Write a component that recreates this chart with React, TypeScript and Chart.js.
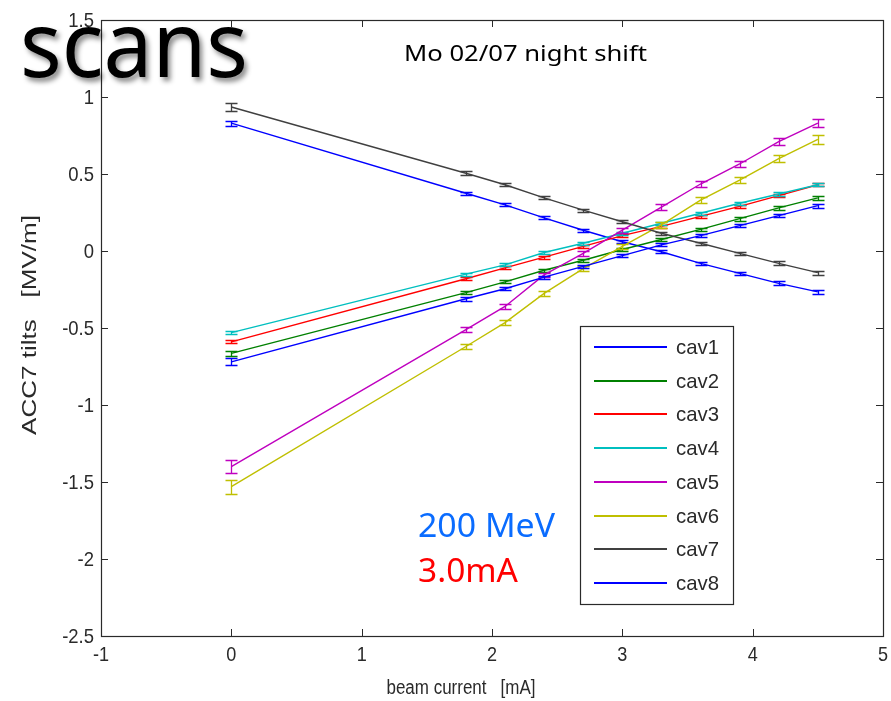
import React, { useEffect, useRef } from "react";
import { Chart, registerables } from "chart.js";

Chart.register(...registerables);

// ---- data ----
const currents = [0, 1.8, 2.1, 2.4, 2.7, 3.0, 3.3, 3.6, 3.9, 4.2, 4.5];

const cavLabels = ["cav1", "cav2", "cav3", "cav4", "cav5", "cav6", "cav7", "cav8"];

const cav1 = [0.83, 0.375, 0.3, 0.215, 0.135, 0.06, -0.005, -0.08, -0.145, -0.21, -0.265];
const cav2 = [-0.665, -0.27, -0.2, -0.125, -0.06, 0.01, 0.075, 0.14, 0.21, 0.28, 0.345];
const cav3 = [-0.59, -0.18, -0.11, -0.04, 0.03, 0.1, 0.16, 0.225, 0.29, 0.36, 0.43];
const cav4 = [-0.53, -0.15, -0.09, -0.01, 0.05, 0.115, 0.18, 0.245, 0.31, 0.37, 0.43];
const cav5 = [-1.4, -0.51, -0.36, -0.155, -0.015, 0.135, 0.285, 0.435, 0.565, 0.71, 0.83];
const cav6 = [-1.53, -0.62, -0.465, -0.275, -0.115, 0.03, 0.17, 0.33, 0.46, 0.6, 0.725];
const cav7 = [0.935, 0.505, 0.43, 0.345, 0.265, 0.19, 0.115, 0.05, -0.015, -0.08, -0.14];
const cav8 = [-0.72, -0.31, -0.245, -0.17, -0.1, -0.03, 0.04, 0.1, 0.165, 0.23, 0.295];

const err1 = [0.016, 0.01, 0.01, 0.01, 0.01, 0.01, 0.01, 0.01, 0.01, 0.012, 0.013];
const err2 = [0.018, 0.012, 0.01, 0.01, 0.01, 0.01, 0.01, 0.01, 0.012, 0.012, 0.012];
const err3 = [0.01, 0.01, 0.01, 0.01, 0.01, 0.01, 0.01, 0.01, 0.01, 0.01, 0.01];
const err4 = [0.01, 0.01, 0.01, 0.01, 0.01, 0.01, 0.01, 0.01, 0.01, 0.01, 0.01];
const err5 = [0.043, 0.016, 0.015, 0.015, 0.015, 0.015, 0.018, 0.018, 0.02, 0.022, 0.026];
const err6 = [0.045, 0.016, 0.015, 0.015, 0.015, 0.015, 0.018, 0.018, 0.02, 0.022, 0.027];
const err7 = [0.026, 0.012, 0.01, 0.01, 0.01, 0.01, 0.01, 0.01, 0.01, 0.012, 0.013];
const err8 = [0.022, 0.012, 0.01, 0.01, 0.01, 0.01, 0.01, 0.01, 0.01, 0.012, 0.013];

const xTicks = [-1, 0, 1, 2, 3, 4, 5];
const yTicks = [-2.5, -2, -1.5, -1, -0.5, 0, 0.5, 1, 1.5];

const seriesValues = [cav1, cav2, cav3, cav4, cav5, cav6, cav7, cav8];
const seriesErrors = [err1, err2, err3, err4, err5, err6, err7, err8];

// ---- styles ----
const colors = ["#0000ff", "#008000", "#ff0000", "#00bfbf", "#bf00bf", "#bfbf00", "#404040", "#0000ff"];
const SANS = '"Liberation Sans", Arial, sans-serif';
const OFFICE = '"Noto Sans", "Open Sans", sans-serif';
const AXIS_COLOR = "#2a2a2a";

function fitText(
  ctx: CanvasRenderingContext2D,
  text: string,
  x: number,
  y: number,
  width: number,
  font: string,
  color: string,
  align: "left" | "center" = "left",
  rotate = 0
) {
  ctx.save();
  ctx.font = font;
  const w = ctx.measureText(text).width;
  const s = width / w;
  ctx.translate(x, y);
  if (rotate) ctx.rotate(rotate);
  ctx.scale(s, 1);
  ctx.fillStyle = color;
  ctx.textAlign = align;
  ctx.textBaseline = "alphabetic";
  ctx.fillText(text, 0, 0);
  ctx.restore();
}

function narrowText(
  ctx: CanvasRenderingContext2D,
  text: string,
  x: number,
  y: number,
  size: number,
  sx: number,
  align: CanvasTextAlign,
  baseline: CanvasTextBaseline
) {
  ctx.save();
  ctx.translate(x, y);
  ctx.scale(sx, 1);
  ctx.font = `${size}px ${SANS}`;
  ctx.fillStyle = AXIS_COLOR;
  ctx.textAlign = align;
  ctx.textBaseline = baseline;
  ctx.fillText(text, 0, 0);
  ctx.restore();
}

const errorBarPlugin = {
  id: "errorBars",
  afterDatasetDraw(chart: any, args: any) {
    const ds = chart.data.datasets[args.index];
    const errs: number[] = ds.errors;
    if (!errs) return;
    const xs = chart.scales.x;
    const ys = chart.scales.y;
    const ctx: CanvasRenderingContext2D = chart.ctx;
    ctx.save();
    ctx.strokeStyle = ds.borderColor;
    ctx.lineWidth = 1.3;
    ds.data.forEach((p: any, i: number) => {
      const px = Math.round(xs.getPixelForValue(p.x)) + 0.5;
      const y1 = Math.round(ys.getPixelForValue(p.y - errs[i])) + 0.5;
      const y2 = Math.round(ys.getPixelForValue(p.y + errs[i])) + 0.5;
      ctx.beginPath();
      ctx.moveTo(px, y1);
      ctx.lineTo(px, y2);
      ctx.moveTo(px - 6, y1);
      ctx.lineTo(px + 6, y1);
      ctx.moveTo(px - 6, y2);
      ctx.lineTo(px + 6, y2);
      ctx.stroke();
    });
    ctx.restore();
  },
};

const framePlugin = {
  id: "frameAndText",
  afterDraw(chart: any) {
    const ctx: CanvasRenderingContext2D = chart.ctx;
    const { left, right, top, bottom } = chart.chartArea;
    const xs = chart.scales.x;
    const ys = chart.scales.y;

    // frame
    ctx.save();
    ctx.strokeStyle = AXIS_COLOR;
    ctx.lineWidth = 1.2;
    ctx.strokeRect(Math.round(left) + 0.5, Math.round(top) + 0.5, Math.round(right - left), Math.round(bottom - top));
    // inward ticks
    ctx.lineWidth = 1;
    ctx.beginPath();
    xs.ticks.forEach((t: any) => {
      const px = Math.round(xs.getPixelForValue(t.value)) + 0.5;
      ctx.moveTo(px, bottom);
      ctx.lineTo(px, bottom - 7);
      ctx.moveTo(px, top);
      ctx.lineTo(px, top + 7);
    });
    ys.ticks.forEach((t: any) => {
      const py = Math.round(ys.getPixelForValue(t.value)) + 0.5;
      ctx.moveTo(left, py);
      ctx.lineTo(left + 7, py);
      ctx.moveTo(right, py);
      ctx.lineTo(right - 7, py);
    });
    ctx.stroke();
    ctx.restore();

    // tick labels (from the scales' ticks)
    xs.ticks.forEach((t: any) => {
      narrowText(ctx, String(t.value), xs.getPixelForValue(t.value), bottom + 9, 21, 0.86, "center", "top");
    });
    ys.ticks.forEach((t: any) => {
      narrowText(ctx, String(t.value), left - 7, ys.getPixelForValue(t.value) + 1, 21, 0.88, "right", "middle");
    });

    // axis titles
    fitText(ctx, "beam current   [mA]", 461, 694, 149, `20px ${SANS}`, AXIS_COLOR, "center");
    fitText(ctx, "ACC7 tilts   [MV/m]", 36, 325, 220, `21px ${SANS}`, AXIS_COLOR, "center", -Math.PI / 2);

    // title inside plot
    fitText(ctx, "Mo 02/07 night shift", 404, 61, 243, `22px ${OFFICE}`, "#000000");

    // annotations
    fitText(ctx, "200 MeV", 418, 537, 137, `33px ${OFFICE}`, "#0a6cff");
    fitText(ctx, "3.0mA", 418, 582, 100, `33px ${OFFICE}`, "#ff0000");

    // big "scans" with shadow
    ctx.save();
    ctx.shadowColor = "rgba(0,0,0,0.45)";
    ctx.shadowOffsetX = 3;
    ctx.shadowOffsetY = 4;
    ctx.shadowBlur = 5;
    fitText(ctx, "scans", 20, 77, 228, `92px ${OFFICE}`, "#000000");
    ctx.restore();

    // legend
    const lx = 580, ly = 326, lw = 153, lh = 278;
    ctx.save();
    ctx.fillStyle = "#ffffff";
    ctx.fillRect(lx, ly, lw, lh);
    ctx.strokeStyle = AXIS_COLOR;
    ctx.lineWidth = 1.2;
    ctx.strokeRect(lx + 0.5, ly + 0.5, lw, lh);
    chart.data.datasets.forEach((ds: any, i: number) => {
      const ry = Math.round(ly + 21 + i * 33.7);
      ctx.strokeStyle = ds.borderColor;
      ctx.lineWidth = 2;
      ctx.beginPath();
      ctx.moveTo(lx + 14, ry);
      ctx.lineTo(lx + 87, ry);
      ctx.stroke();
      narrowText(ctx, ds.label, lx + 96, ry + 1, 21, 0.97, "left", "middle");
    });
    ctx.restore();
  },
};

export default function App() {
  const canvasRef = useRef<HTMLCanvasElement | null>(null);

  useEffect(() => {
    document.body.style.margin = "0";
    const canvas = canvasRef.current;
    if (!canvas) return;
    const datasets = seriesValues.map((vals, i) => ({
      label: cavLabels[i],
      data: currents.map((x, j) => ({ x, y: vals[j] })),
      errors: seriesErrors[i],
      borderColor: colors[i],
      backgroundColor: colors[i],
      borderWidth: 1.4,
      pointRadius: 0,
      fill: false,
      tension: 0,
      order: seriesValues.length - i,
    }));

    const chart = new Chart(canvas, {
      type: "line",
      data: { datasets } as any,
      options: {
        animation: false,
        responsive: true,
        maintainAspectRatio: false,
        layout: { padding: { left: 0, top: 20, right: 8, bottom: 0 } },
        plugins: {
          legend: { display: false },
          tooltip: { enabled: false },
          title: { display: false },
        },
        scales: {
          x: {
            type: "linear",
            min: -1,
            max: 5,
            afterBuildTicks: (scale: any) => {
              scale.ticks = xTicks.map((v) => ({ value: v }));
            },
            afterFit: (scale: any) => {
              scale.height = 65;
            },
            grid: { display: false, drawTicks: false },
            border: { display: false },
            ticks: { display: false },
          },
          y: {
            type: "linear",
            min: -2.5,
            max: 1.5,
            afterBuildTicks: (scale: any) => {
              scale.ticks = yTicks.map((v) => ({ value: v }));
            },
            afterFit: (scale: any) => {
              scale.width = 101;
            },
            grid: { display: false, drawTicks: false },
            border: { display: false },
            ticks: { display: false },
          },
        },
      } as any,
      plugins: [errorBarPlugin, framePlugin],
    });
    return () => chart.destroy();
  }, []);

  return (
    <div style={{ position: "absolute", left: 0, top: 0, width: 891, height: 701, background: "#ffffff" }}>
      <canvas ref={canvasRef} />
    </div>
  );
}
